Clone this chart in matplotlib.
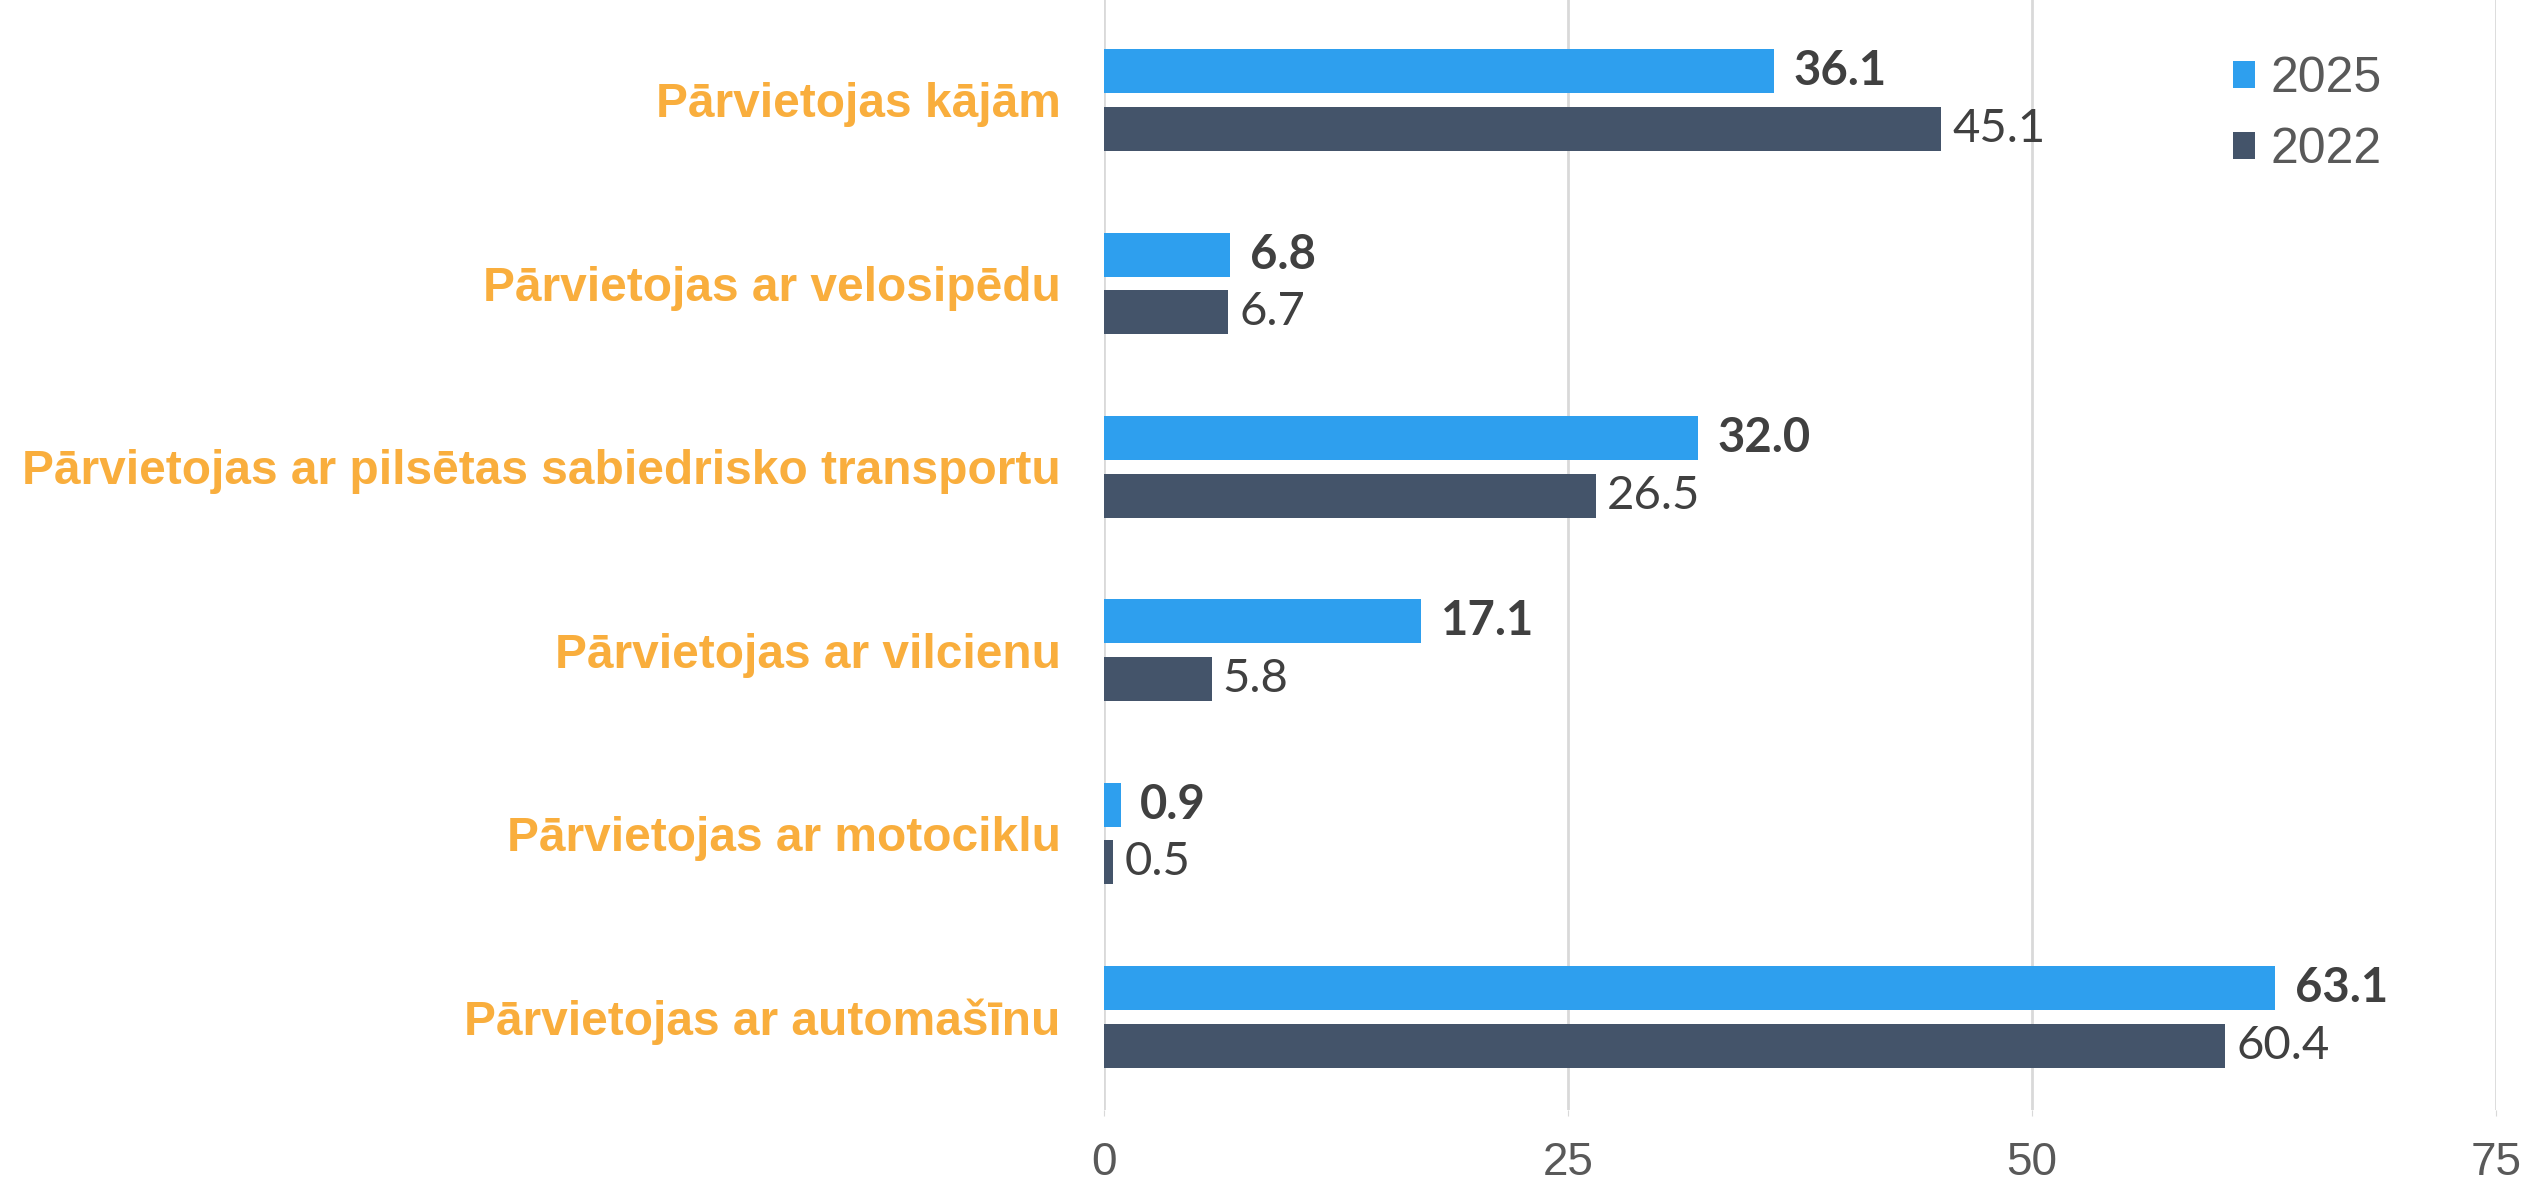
import numpy as np
import matplotlib.pyplot as plt

# Dati
kategorijas = [
    "Pārvietojas kājām",
    "Pārvietojas ar velosipēdu",
    "Pārvietojas ar pilsētas sabiedrisko transportu",
    "Pārvietojas ar vilcienu",
    "Pārvietojas ar motociklu",
    "Pārvietojas ar automašīnu",
]
v2025 = [36.1, 6.8, 32.0, 17.1, 0.9, 63.1]
v2022 = [45.1, 6.7, 26.5, 5.8, 0.5, 60.4]
x_ticks = [0, 25, 50, 75]

c2025 = "#2E9FEE"
c2022 = "#44546A"
c_label = "#F9AE3D"
c_text = "#404040"
c_tick = "#595959"

fig = plt.figure(figsize=(25.47, 11.84), dpi=100)
ax = fig.add_axes([0.4334, 0.0625, 0.5466, 0.9375])

y = np.arange(len(kategorijas))
h = 0.24
off = 0.157

b1 = ax.barh(y - off, v2025, height=h, color=c2025, label="2025", zorder=3)
b2 = ax.barh(y + off, v2022, height=h, color=c2022, label="2022", zorder=3)

for yy, v in zip(y, v2025):
    ax.annotate(f"{v:.1f}", (v, yy - off), xytext=(14, 0), textcoords="offset points",
                va="center", ha="left", fontsize=34, fontweight="bold",
                color=c_text, family=["Lato", "DejaVu Sans"])
for yy, v in zip(y, v2022):
    ax.annotate(f"{v:.1f}", (v, yy + off), xytext=(8, 0), textcoords="offset points",
                va="center", ha="left", fontsize=34, color=c_text,
                family=["Lato", "DejaVu Sans"])

ax.set_ylim(5.507, -0.545)
ax.set_xlim(0, 75)
ax.set_xticks(x_ticks)
ax.set_xticklabels([str(t) for t in x_ticks], fontsize=33, color=c_tick,
                   family=["Liberation Sans", "DejaVu Sans"])
ax.set_yticks(y)
ax.set_yticklabels(kategorijas, fontsize=34.5, fontweight="bold", color=c_label,
                   family=["Liberation Sans", "DejaVu Sans"])
ax.tick_params(axis="y", length=0, pad=31)
ax.tick_params(axis="x", length=4, color="#D9D9D9", pad=18)

ax.grid(axis="x", color="#D9D9D9", linewidth=2, zorder=0)
for s in ax.spines.values():
    s.set_visible(False)

leg = ax.legend(handles=[b1, b2], loc="upper right", bbox_to_anchor=(0.95, 0.99),
                frameon=False, handlelength=0.45, handleheight=0.45, handletextpad=0.3,
                labelspacing=0.5,
                prop={"family": ["Liberation Sans", "DejaVu Sans"], "size": 36})
for t in leg.get_texts():
    t.set_color(c_tick)

fig.savefig("out.png", dpi=100)
